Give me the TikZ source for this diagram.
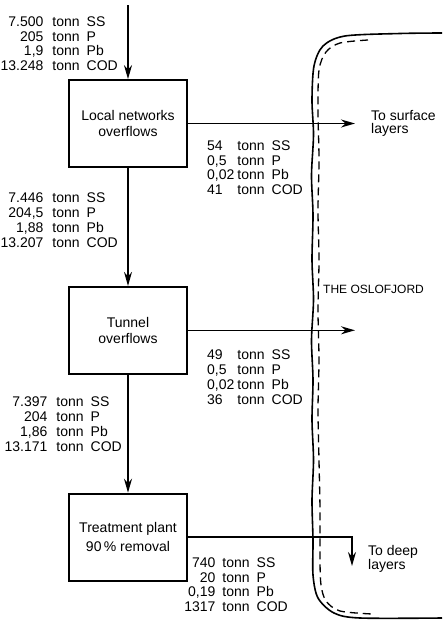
\documentclass[tikz,border=0pt]{standalone}
\usepackage{fontspec}
\setmainfont{Liberation Sans}
\usetikzlibrary{arrows.meta,positioning}
\newcommand{\loads}[5]{%
  \begin{tabular}{@{}#1l@{\hspace{7pt}}l@{}}
    #2 & tonn & SS\\ #3 & tonn & P\\ #4 & tonn & Pb\\ #5 & tonn & COD
  \end{tabular}}
\tikzset{stage/.style={draw, line width=1.8pt, minimum width=118pt, minimum height=87pt, align=center, inner sep=2pt, font=\fontsize{14}{15.5}\selectfont},
  load/.style={inner sep=0pt, font=\fontsize{14}{14.8}\selectfont},
  flow/.style={line width=1.6pt, -{Stealth[length=14pt,width=8pt]}},
  coast/.style={line width=1.6pt},
  shore/.style={line width=1.3pt, dash pattern=on 8pt off 5pt},
  lbl/.style={inner sep=0pt, align=left, font=\fontsize{14}{13.5}\selectfont}}

\begin{document}
\begin{tikzpicture}[x=1pt,y=-1pt]
    \useasboundingbox (0,0) rectangle (442,621);
    % the fjord
    \draw[coast] plot[smooth, tension=0.5] coordinates {(442,33) (400,33.5) (345,36) (323,46) (314,66) (312,100) (313.5,135) (311.5,175) (313,215) (312,260) (313.5,300) (311.5,340) (313,380) (312,420) (313.5,460) (312,500) (313,540) (313,575) (318,598) (334,613) (360,618) (442,618)};
    \draw[shore] plot[smooth, tension=0.5] coordinates {(368,40) (340,43) (326,52) (319,70) (318,110) (319,160) (318,210) (319,260) (318,310) (319,360) (318,410) (319,460) (320,510) (320,560) (321,585) (326,601) (340,611) (372,614)};
    % stages
    \coordinate (src) at (128,5);
    \coordinate (sea) at (355,0);
    \coordinate (deep) at (352,566);
    \node[stage] (local) at (128,123.5) {Local networks\\overflows};
    \node[stage, below=118pt of local] (tunnel) {Tunnel\\overflows};
    \node[stage, below=118pt of tunnel] (plant) {Treatment plant\\[3pt]90\,\% removal};
    \draw[flow] (src) -- (local);
    \draw[flow] (local) -- (tunnel);
    \draw[flow] (tunnel) -- (plant);
    \draw[flow] (local.east) -- (local.east -| sea);
    \draw[flow] (tunnel.east) -- (tunnel.east -| sea);
    \draw[flow] (plant.east) -| (deep);
    % labels
    \node[lbl, anchor=west] (surf) at ([xshift=16pt]local.east -| sea) {To surface\\layers};
    \node[lbl, anchor=west, font=\fontsize{12}{13}\selectfont] (fjord) at (323,289) {THE OSLOFJORD};
    \node[lbl, anchor=west] (deeplbl) at (368,559) {To deep\\layers};
    % loads
    \node[load, anchor=east] (in1) at (118,45.5) {\loads{r@{\hspace{9pt}}}{7.500}{205}{1,9}{13.248}};
    \node[load, anchor=east] (in2) at (118,222) {\loads{r@{\hspace{9pt}}}{7.446}{204,5}{1,88}{13.207}};
    \node[load, anchor=east] (in3) at (122,426) {\loads{r@{\hspace{9pt}}}{7.397}{204}{1,86}{13.171}};
    \node[load, anchor=west] (out1) at (207,169.5) {\loads{l@{\hspace{3pt}}}{54}{0,5}{0,02}{41}};
    \node[load, anchor=west] (out2) at (207,379) {\loads{l@{\hspace{3pt}}}{49}{0,5}{0,02}{36}};
    \node[load, anchor=east] (out3) at (288,586.5) {\loads{r@{\hspace{7pt}}}{740}{20}{0,19}{1317}};
\end{tikzpicture}
\end{document}
